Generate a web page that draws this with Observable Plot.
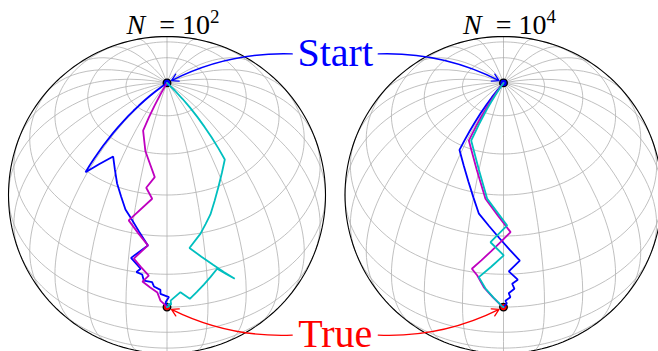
<!DOCTYPE html>
<html>
<head>
<meta charset="utf-8">
<script src="https://cdn.jsdelivr.net/npm/d3@7"></script>
<script src="https://cdn.jsdelivr.net/npm/@observablehq/plot@0.6"></script>
<style>
html, body { margin: 0; padding: 0; overflow: hidden; background: #ffffff; }
#chart { position: relative; width: 658px; height: 351px; overflow: hidden; background: #ffffff; }
#chart svg { position: absolute; left: 0; top: 0; }
</style>
</head>
<body>
<div id="chart"></div>
<script>
// ---- data (longitude, latitude in degrees) ----
const startPoint = [0, 90];
const truePoint = [0, 0];

const titleExponents = ["2", "4"];            // N = 10^2, N = 10^4
const seriesNames = ["run 1", "run 2", "run 3"];
const seriesColors = ["#0000ff", "#bf00bf", "#00bfbf"];

// N = 10^2
const n100Blue = [[0,90],[-46,44.4],[-35.8,54.5],[-27,46.1],[-19.4,37.9],[-16.4,35.5],[-7.7,26.1],[-14,20.4],[-10,16.6],[-11.5,15],[-9.3,14.3],[-8.6,11.8],[-5.5,11.4],[-4.8,9.6],[-2.4,8.2],[-2.4,6.4],[0.7,4.9],[-0.5,2.4],[0,0]];
const n100Magenta = [[0,90],[-23.3,67.6],[-15.9,60.2],[-7.1,51.3],[-11.1,47.1],[-7.4,43.4],[-17,34.3],[-7.7,26.1],[-12.9,20.3],[-6.8,14.1],[-9.1,11.3],[-3.5,6.9],[-2.4,3.2],[-1.3,1.8],[0,0]];
const n100Cyan = [[0,90],[37.2,52.9],[19.8,36],[14.1,29.8],[9,25],[25.6,8.3],[19.1,14.8],[8.3,3.5],[4.9,7],[1.3,3.2],[1.5,1.2],[0.4,1.6],[0.8,0.4],[0,0]];

// N = 10^4
const n10000Blue = [[0,90],[-31.8,58.2],[-11.3,37.6],[6.3,20.3],[2,16.2],[5.3,12.5],[3.2,10.9],[4,8.6],[1.9,6.7],[2.5,4.8],[0.7,3.2],[1.2,1.8],[0,0]];
const n10000Magenta = [[0,90],[-28.5,62.7],[-9,43.3],[3,31.4],[-12,16.3],[-9.8,13.8],[-7.2,9],[-0.5,0.3],[0,0]];
const n10000Cyan = [[0,90],[-26.7,63],[-8.1,43.3],[1.6,33.9],[-5.3,27.5],[0.1,22.6],[-9.2,13.2],[-6.6,8.5],[-0.5,0.3],[0,0]];

// ---- layout ----
const W = 658, H = 351;
const R = 158.5;
function makeProj(cx, cy) {
  return d3.geoOrthographic().rotate([0, -45]).scale(R).translate([cx, cy]).clipAngle(90).precision(0.1);
}
const projL = makeProj(166.5, 194.5);
const projR = makeProj(503, 194.5);

const grat = d3.geoGraticule().extentMinor([[-180, -90], [180, 90]]).step([15, 15])();

function globePlot(proj, paths) {
  return Plot.plot({
    width: W, height: H, margin: 0,
    projection: proj,
    style: {background: "transparent", overflow: "visible", maxWidth: "none"},
    marks: [
      Plot.geo(grat, {stroke: "#b0b0b0", strokeWidth: 0.8, strokeOpacity: 1, fill: "none"}),
      Plot.sphere({stroke: "#000000", strokeWidth: 1.1, fill: "none"}),
      Plot.dot([startPoint], {x: d => d[0], y: d => d[1], r: 3.8, fill: "#0000ff", stroke: "#000000", strokeWidth: 1.3}),
      Plot.dot([truePoint], {x: d => d[0], y: d => d[1], r: 3.8, fill: "#ff0000", stroke: "#000000", strokeWidth: 1.3}),
      ...paths.map((p, i) => Plot.line(p, {x: d => d[0], y: d => d[1], stroke: seriesColors[i], strokeWidth: 1.8, strokeLinejoin: "miter"}))
    ]
  });
}

const chart = document.getElementById("chart");
chart.appendChild(globePlot(projL, [n100Blue, n100Magenta, n100Cyan]));
chart.appendChild(globePlot(projR, [n10000Blue, n10000Magenta, n10000Cyan]));

// ---- annotations ----
const sL = projL(startPoint), sR = projR(startPoint);
const tL = projL(truePoint), tR = projR(truePoint);
const midX = (sL[0] + sR[0]) / 2;
const topL = projL.translate()[1] - R;

const titles = [
  {x: projL.translate()[0] + 6, y: topL - 3, text: "N = 10^" + titleExponents[0]},
  {x: projR.translate()[0] + 6, y: topL - 3, text: "N = 10^" + titleExponents[1]}
];
const labels = [
  {x: midX, y: sL[1] - 17, text: "Start", color: "#0000ff"},
  {x: midX, y: tL[1] + 40, text: "True", color: "#ff0000"}
];
const half = 43;
const arrowOpts = {x1: "x1", y1: "y1", x2: "x2", y2: "y2", strokeWidth: 1.3, headLength: 9, insetEnd: 5};

const overlay = Plot.plot({
  width: W, height: H, margin: 0,
  x: {type: "identity", axis: null},
  y: {type: "identity", axis: null},
  style: {background: "transparent", overflow: "visible", maxWidth: "none"},
  marks: [
    Plot.arrow([{x1: midX - half, y1: sL[1] - 29, x2: sL[0], y2: sL[1]}], {...arrowOpts, stroke: "#0000ff", bend: -15}),
    Plot.arrow([{x1: midX + half, y1: sR[1] - 29, x2: sR[0], y2: sR[1]}], {...arrowOpts, stroke: "#0000ff", bend: 15}),
    Plot.arrow([{x1: midX - half, y1: tL[1] + 28, x2: tL[0], y2: tL[1]}], {...arrowOpts, stroke: "#ff0000", bend: 15}),
    Plot.arrow([{x1: midX + half, y1: tR[1] + 28, x2: tR[0], y2: tR[1]}], {...arrowOpts, stroke: "#ff0000", bend: -15}),
    Plot.text(labels.slice(0, 1), {x: "x", y: "y", text: "text", fill: "#0000ff", fontSize: 40, fontFamily: "Liberation Serif", lineAnchor: "bottom"}),
    Plot.text(labels.slice(1), {x: "x", y: "y", text: "text", fill: "#ff0000", fontSize: 40, fontFamily: "Liberation Serif", lineAnchor: "bottom"}),
    Plot.text(titles, {x: "x", y: "y", text: "text", fill: "#000000", fontSize: 28, fontFamily: "Liberation Serif", lineAnchor: "bottom"})
  ]
});
chart.appendChild(overlay);

// rich text for titles: italic N and superscript exponent
d3.select(overlay).selectAll("text").each(function() {
  const t = this.textContent;
  if (!t.startsWith("N = 10^")) return;
  const exp = t.split("^")[1];
  const sel = d3.select(this);
  sel.text(null);
  sel.append("tspan").attr("font-style", "italic").text("N");
  sel.append("tspan").text("\u2002= 10");
  sel.append("tspan").attr("dy", -11).attr("font-size", 19).text(exp);
});
</script>
</body>
</html>
